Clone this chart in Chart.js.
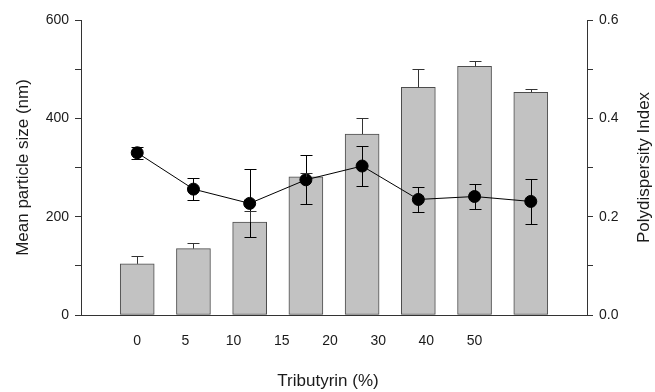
<!DOCTYPE html>
<html>
<head>
<meta charset="utf-8">
<script src="https://cdn.jsdelivr.net/npm/chart.js@4"></script>
<style>
  html, body { margin: 0; padding: 0; background: #fff; }
  #wrap { width: 655px; height: 392px; }
</style>
</head>
<body>
<div id="wrap"><canvas id="grafico" width="655" height="392"></canvas></div>
<script>
// valores
const tickLabels = ['0', '5', '10', '15', '20', '30', '40', '50'];
const particleSize = [104, 135, 189, 281, 368, 463, 506, 453];
const particleErr = [15, 11, 22, 8, 33, 37, 11, 7];
const pdi = [0.330, 0.256, 0.227, 0.275, 0.303, 0.235, 0.241, 0.231];
const pdiErr = [0.012, 0.022, 0.069, 0.050, 0.040, 0.025, 0.025, 0.046];

const FONT = "'Liberation Sans', Arial, sans-serif";
const TXT = '#1a1a1a';

// barras de erro desenhadas por cima dos datasets
const errorBars = {
  id: 'errorBars',
  afterDatasetsDraw(chart) {
    const ctx = chart.ctx;
    chart.data.datasets.forEach((ds, di) => {
      if (!ds.errors) return;
      const meta = chart.getDatasetMeta(di);
      const scale = chart.scales[ds.yAxisID];
      ctx.save();
      ctx.strokeStyle = ds.errorColor;
      ctx.lineWidth = 1;
      meta.data.forEach((el, i) => {
        const v = ds.data[i].y;
        const e = ds.errors[i];
        const x = Math.round(el.x) + 0.5;
        const top = Math.round(scale.getPixelForValue(v + e)) + 0.5;
        const bot = ds.errorBoth ? Math.round(scale.getPixelForValue(v - e)) + 0.5 : scale.getPixelForValue(v);
        const w = ds.capWidth / 2;
        ctx.beginPath();
        ctx.moveTo(x, top); ctx.lineTo(x, bot);
        ctx.moveTo(x - w, top); ctx.lineTo(x + w, top);
        if (ds.errorBoth) { ctx.moveTo(x - w, bot); ctx.lineTo(x + w, bot); }
        ctx.stroke();
      });
      ctx.restore();
    });
  }
};

// titulos dos eixos (o da direita le de baixo para cima)
const axisTitles = {
  id: 'axisTitles',
  afterDraw(chart) {
    const ctx = chart.ctx;
    const area = chart.chartArea;
    const midY = (area.top + area.bottom) / 2;
    ctx.save();
    ctx.fillStyle = TXT;
    ctx.font = '17px ' + FONT;
    ctx.textAlign = 'center';
    ctx.textBaseline = 'middle';
    [[23, 'Mean particle size (nm)'], [644, 'Polydispersity Index']].forEach(([x, t]) => {
      ctx.save();
      ctx.translate(x, midY);
      ctx.rotate(-Math.PI / 2);
      ctx.fillText(t, 0, 0);
      ctx.restore();
    });
    ctx.fillText('Tributyrin (%)', 328, 381);
    ctx.restore();
  }
};

const eixoY = {
  grid: { display: true, drawOnChartArea: false, drawTicks: true, tickLength: 6, color: '#333' },
  border: { display: true, color: '#333', width: 1 }
};

new Chart(document.getElementById('grafico'), {
  type: 'bar',
  data: {
    datasets: [
      {
        type: 'line',
        data: pdi.map((v, i) => ({ x: i + 1, y: v })),
        yAxisID: 'y1',
        borderColor: '#000',
        borderWidth: 1,
        pointRadius: 6,
        pointBackgroundColor: '#000',
        pointBorderColor: '#000',
        tension: 0,
        errors: pdiErr,
        errorBoth: true,
        errorColor: '#000',
        capWidth: 12,
        order: 0
      },
      {
        data: particleSize.map((v, i) => ({ x: i + 1, y: v })),
        yAxisID: 'y',
        backgroundColor: '#c2c2c2',
        borderColor: '#4d4d4d',
        borderWidth: 1,
        borderSkipped: false,
        barThickness: 34,
        errors: particleErr,
        errorBoth: false,
        errorColor: '#333',
        capWidth: 12,
        order: 1
      }
    ]
  },
  options: {
    responsive: false,
    animation: false,
    layout: { padding: { top: 20, left: 0, right: 0, bottom: 0 } },
    plugins: { legend: { display: false }, tooltip: { enabled: false } },
    scales: {
      x: {
        type: 'linear',
        offset: false,
        min: 0,
        max: 9,
        grid: { display: false, drawTicks: false },
        border: { display: true, color: '#333', width: 1 },
        afterBuildTicks: (s) => {
          s.ticks = tickLabels.map((t, i) => ({ value: 1 + i * 6 / (tickLabels.length - 1) }));
        },
        afterFit: (s) => { s.height = 77; },
        ticks: {
          autoSkip: false,
          maxRotation: 0,
          padding: 18,
          color: TXT,
          font: { family: FONT, size: 14 },
          callback: (v, i) => tickLabels[i]
        }
      },
      y: {
        ...eixoY,
        position: 'left',
        min: 0,
        max: 600,
        afterFit: (s) => { s.width = 81; },
        ticks: {
          stepSize: 100,
          padding: 6,
          color: TXT,
          font: { family: FONT, size: 14 },
          callback: (v) => (v % 200 === 0 ? v : '')
        }
      },
      y1: {
        ...eixoY,
        position: 'right',
        min: 0,
        max: 0.6,
        afterFit: (s) => { s.width = 68; },
        ticks: {
          stepSize: 0.1,
          padding: 6,
          color: TXT,
          font: { family: FONT, size: 14 },
          callback: (v) => (Math.round(v * 10) % 2 === 0 ? v.toFixed(1) : '')
        }
      }
    }
  },
  plugins: [errorBars, axisTitles]
});
</script>
</body>
</html>
